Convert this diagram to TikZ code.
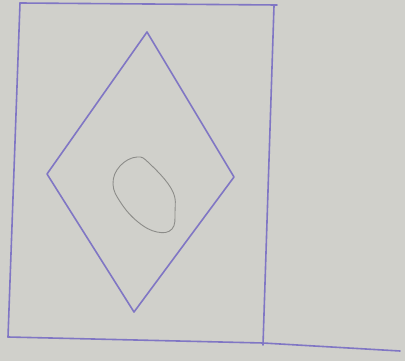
\documentclass[tikz,border=0pt]{standalone}
\definecolor{paper}{RGB}{208,208,203}
\definecolor{ink}{RGB}{128,118,196}
\definecolor{pencil}{RGB}{140,140,137}
\begin{document}
\begin{tikzpicture}[x=1pt,y=-1pt,
  penline/.style={draw=ink,line width=1.6pt,line join=round,line cap=round},
  pencilline/.style={draw=pencil,line width=0.9pt}]
\fill[paper] (0,0) rectangle (405,361);
\useasboundingbox (0,0) rectangle (405,361);
% outer frame
\coordinate (tl) at (20,3);
\coordinate (tr) at (277,5);
\coordinate (rt) at (274,6);
\coordinate (rb) at (263,345);
\coordinate (bl) at (8,337);
\coordinate (be) at (400,351);
\draw[penline] (tl) -- (tr);
\draw[penline] (tl) -- (bl);
\draw[penline] (rt) -- (rb);
\draw[penline] (bl) -- (263,343) -- (be);
% diamond
\coordinate (dt) at (147,32);
\coordinate (dr) at (234,177);
\coordinate (db) at (134,312);
\coordinate (dl) at (47,174);
\draw[penline] (dt) -- (dr) -- (db) -- (dl) -- cycle;
% oval
\draw[pencilline] plot[smooth cycle,tension=0.7] coordinates {(137,157) (150,164) (172,190) (175,212) (172,229) (157,232) (138,222) (121,203) (113,184) (120,166)};
\end{tikzpicture}
\end{document}
